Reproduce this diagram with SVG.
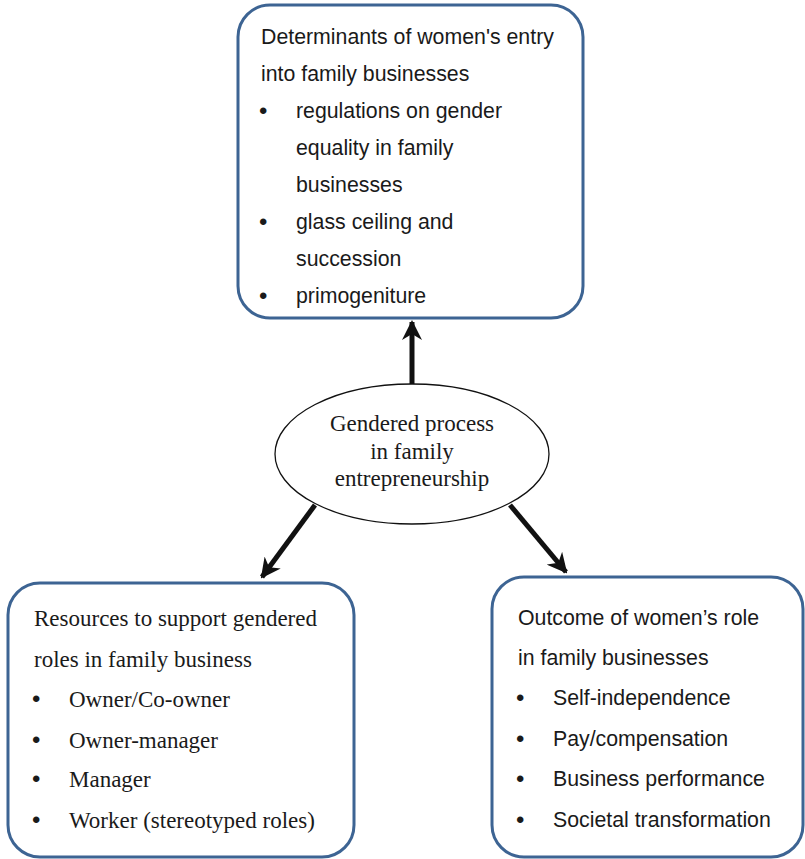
<svg xmlns="http://www.w3.org/2000/svg" width="805" height="859" viewBox="0 0 805 859">
<style>
.box{fill:#fff;stroke:#3d6493;stroke-width:3}
.sans{font-family:"Liberation Sans",Arial,sans-serif;font-size:21.3px;fill:#1a1a1a}
.serif{font-family:"Liberation Serif","Times New Roman",serif;font-size:23px;fill:#1a1a1a}
.bul{font-size:24px}
.conn{stroke:#111;stroke-width:5;fill:none}
</style>
<defs>
<marker id="ah" viewBox="0 0 10 10" refX="9" refY="5" markerWidth="4" markerHeight="4" orient="auto" markerUnits="strokeWidth">
<path d="M0,0 L10,5 L0,10 L3,5 Z" fill="#111"/>
</marker>
</defs>
<g id="connectors">
<line class="conn" x1="412" y1="384" x2="412" y2="322" marker-end="url(#ah)"/>
<line class="conn" x1="315" y1="505" x2="262" y2="577" marker-end="url(#ah)"/>
<line class="conn" x1="510" y1="505" x2="566" y2="572" marker-end="url(#ah)"/>
</g>
<g id="top">
<rect class="box" x="238" y="5" width="345" height="313" rx="32"/>
<text class="sans" x="261" y="44">Determinants of women's entry</text>
<text class="sans" x="261" y="81">into family businesses</text>
<text class="sans bul" x="259" y="119">•</text><text class="sans" x="296" y="118">regulations on gender</text>
<text class="sans" x="296" y="155">equality in family</text>
<text class="sans" x="296" y="192">businesses</text>
<text class="sans bul" x="259" y="230">•</text><text class="sans" x="296" y="229">glass ceiling and</text>
<text class="sans" x="296" y="266">succession</text>
<text class="sans bul" x="259" y="304">•</text><text class="sans" x="296" y="303">primogeniture</text>
</g>
<g id="center">
<ellipse cx="412" cy="454" rx="137" ry="70" fill="#fff" stroke="#111" stroke-width="1.3"/>
<text class="serif" x="412" y="431" text-anchor="middle">Gendered process</text>
<text class="serif" x="412" y="459" text-anchor="middle">in family</text>
<text class="serif" x="412" y="486" text-anchor="middle">entrepreneurship</text>
</g>
<g id="left">
<rect class="box" x="8" y="583" width="346" height="274" rx="32"/>
<text class="serif" x="34" y="626">Resources to support gendered</text>
<text class="serif" x="34" y="667">roles in family business</text>
<text class="sans bul" x="32" y="707">•</text><text class="serif" x="69" y="707">Owner/Co-owner</text>
<text class="sans bul" x="32" y="748">•</text><text class="serif" x="69" y="748">Owner-manager</text>
<text class="sans bul" x="32" y="787">•</text><text class="serif" x="69" y="787">Manager</text>
<text class="sans bul" x="32" y="828">•</text><text class="serif" x="69" y="828">Worker (stereotyped roles)</text>
</g>
<g id="right">
<rect class="box" x="492" y="577" width="311" height="280" rx="32"/>
<text class="sans" x="518" y="625">Outcome of women’s role</text>
<text class="sans" x="518" y="665">in family businesses</text>
<text class="sans bul" x="516" y="706">•</text><text class="sans" x="553" y="705">Self-independence</text>
<text class="sans bul" x="516" y="747">•</text><text class="sans" x="553" y="746">Pay/compensation</text>
<text class="sans bul" x="516" y="787">•</text><text class="sans" x="553" y="786">Business performance</text>
<text class="sans bul" x="516" y="828">•</text><text class="sans" x="553" y="827">Societal transformation</text>
</g>
</svg>
